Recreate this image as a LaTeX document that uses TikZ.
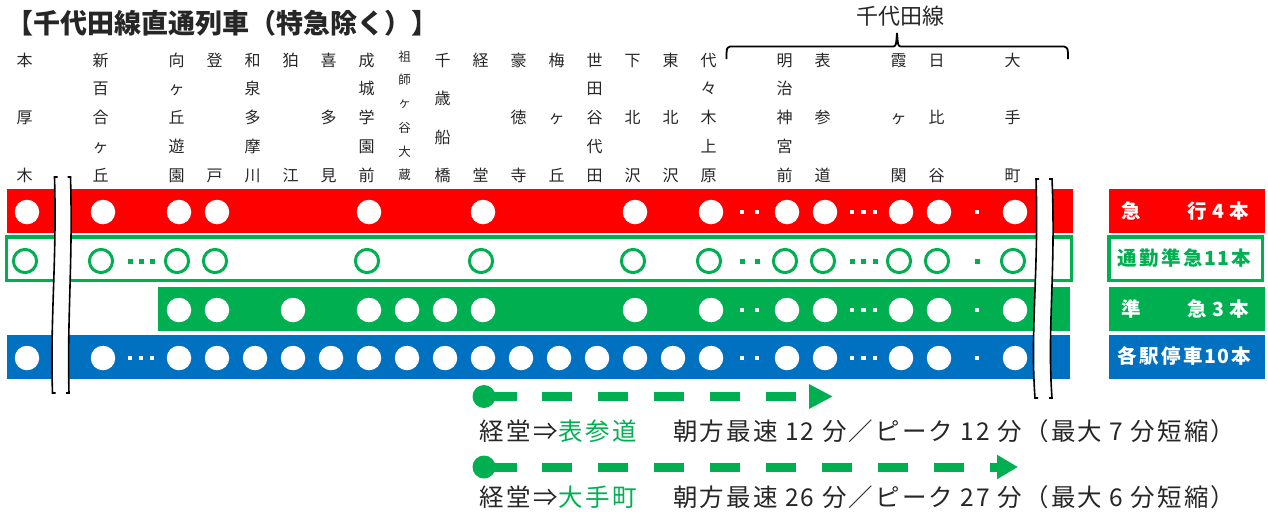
\documentclass[tikz,border=0pt]{standalone}
\usepackage{fontspec}
\setmainfont{Noto Sans CJK JP}
\usetikzlibrary{arrows.meta}
\definecolor{kred}{HTML}{FF0000}
\definecolor{kgreen}{HTML}{00B050}
\definecolor{kblue}{HTML}{0070C0}
\definecolor{ink}{HTML}{262626}
\newcommand\fs[1]{\fontsize{#1}{#1}\selectfont}
\newcommand\lc[2]{\makebox[#1pt]{#2}}
\tikzset{
 stl/.style={anchor=base, inner sep=0pt, font=\fs{16}, text=ink},
 stls/.style={anchor=base, inner sep=0pt, font=\fs{12.5}, text=ink},
 wdot/.style={circle, fill=white, minimum size=24.5pt, inner sep=0pt},
 odot/.style={circle, draw=kgreen, line width=3pt, fill=white, minimum size=23.2pt, inner sep=0pt},
 wsq/.style={rectangle, fill=white, minimum size=4.5pt, inner sep=0pt},
 gsq/.style={rectangle, fill=kgreen, minimum size=5pt, inner sep=0pt},
 legt/.style={anchor=base west, inner sep=0pt, font=\fs{19.5}\bfseries},
 btxt/.style={anchor=base west, inner sep=0pt, font=\fs{24.5}\addfontfeatures{LetterSpace=8.7}, text=ink},
 btxta/.style={anchor=base west, inner sep=0pt, font=\fs{24.5}\addfontfeatures{LetterSpace=11}, text=ink},
 brk/.style={line width=1.6pt, black},
 startdot/.style={circle, fill=kgreen, minimum size=23pt, inner sep=0pt},
 dasharrow/.style={kgreen, line width=9pt, dash pattern=on 30pt off 25.9pt},
}
\newcommand\stnT[4]{%
 \node[stl] (s#1a) at ({24.5+38*#1},66.1) {#2};
 \node[stl] (s#1c) at ({24.5+38*#1},123.1) {#3};
 \node[stl] (s#1e) at ({24.5+38*#1},181.1) {#4};}
\newcommand\stnF[6]{%
 \node[stl] (s#1a) at ({24.5+38*#1},66.1) {#2};
 \node[stl] (s#1b) at ({24.5+38*#1},94.6) {#3};
 \node[stl] (s#1c) at ({24.5+38*#1},123.1) {#4};
 \node[stl] (s#1d) at ({24.5+38*#1},152.1) {#5};
 \node[stl] (s#1e) at ({24.5+38*#1},181.1) {#6};}
\newcommand\stnW[3]{%
 \node[stl] (s#1a) at ({24.5+38*#1},66.1) {#2};
 \node[stl] (s#1e) at ({24.5+38*#1},181.1) {#3};}
\begin{document}
\begin{tikzpicture}[x=1pt,y=-1pt]
\useasboundingbox (0,0) rectangle (1268,515);
% title
\node[anchor=base west, inner sep=0pt, font=\fs{27}\bfseries, text=ink] (title) at (6.5,33.3) {【千代田線直通列車（特急除く）】};
\node[anchor=base, inner sep=0pt, font=\fs{22}, text=ink] (chiyoda) at (900,24.4) {千代田線};
\draw[line width=1.8pt] (726.5,59) .. controls (726.5,48) .. (730,46.5) -- (892,46.5)
  .. controls (896,46.5) .. (897,33) .. controls (898,46.5) .. (902,46.5) -- (1064,46.5)
  .. controls (1068,48) .. (1068,59);
% station names
\stnT{0}{本}{厚}{木}
\stnF{2}{新}{百}{合}{ヶ}{丘}
\stnF{4}{向}{ヶ}{丘}{遊}{園}
\stnW{5}{登}{戸}
\stnF{6}{和}{泉}{多}{摩}{川}
\stnW{7}{狛}{江}
\stnT{8}{喜}{多}{見}
\stnF{9}{成}{城}{学}{園}{前}
\foreach \ch/\yy [count=\i] in {祖/61.75,師/84.75,ヶ/107.75,谷/132.75,大/156.75,蔵/179.75}
  \node[stls] (s10-\i) at (404.5,\yy) {\ch};
\foreach \ch/\yy [count=\i] in {千/66.1,歳/104.1,船/143.1,橋/181.1}
  \node[stl] (s11-\i) at (442.5,\yy) {\ch};
\stnW{12}{経}{堂}
\stnT{13}{豪}{徳}{寺}
\stnT{14}{梅}{ヶ}{丘}
\stnF{15}{世}{田}{谷}{代}{田}
\stnT{16}{下}{北}{沢}
\stnT{17}{東}{北}{沢}
\stnF{18}{代}{々}{木}{上}{原}
\stnF{20}{明}{治}{神}{宮}{前}
\stnT{21}{表}{参}{道}
\stnT{23}{霞}{ヶ}{関}
\stnT{24}{日}{比}{谷}
\stnT{26}{大}{手}{町}
% bars
\fill[kred] (7,189) rectangle (1072.5,232.7);
\draw[kgreen, line width=3.5pt] (6.5,237) rectangle (1071.3,280.7);
\fill[kgreen] (158,286.7) rectangle (1070,330.7);
\fill[kblue] (7,335) rectangle (1070,379);
% stops
\foreach \k in {0,2,4,5,9,12,16,18,20,21,23,24,26}
  \node[wdot] (a\k) at ({27+38*\k},212) {};
\foreach \k in {0,2,4,5,9,12,16,18,20,21,23,24,26}
  \node[odot] (b\k) at ({25+38*\k},261) {};
\foreach \k in {4,5,7,9,10,11,12,16,18,20,21,23,24,26}
  \node[wdot] (c\k) at ({27+38*\k},310) {};
\foreach \k in {0,2,4,5,...,18,20,21,23,24,26}
  \node[wdot] (d\k) at ({27+38*\k},358) {};
% dots
\foreach \x [count=\i] in {742,757,852,863.5,875,977} {
  \node[wsq] (aq\i) at (\x,212) {};
  \node[gsq] (bq\i) at (\x,261) {};
  \node[wsq] (cq\i) at (\x,310) {};
  \node[wsq] (dq\i) at (\x,358) {};
}
\foreach \x [count=\i] in {130,141,152} {
  \node[gsq] (bp\i) at (\x,261) {};
  \node[wsq] (dp\i) at (\x,358) {};
}
% break marks
\fill[white] (54.5,177) .. controls (57,260) and (50,320) .. (52.5,393) -- (69,393) .. controls (67,320) and (73,260) .. (70.5,177) -- cycle;
\draw[brk] (57.5,177) -- (54.5,177) .. controls (57,260) and (50,320) .. (52.5,393) -- (55.5,393);
\draw[brk] (67.5,177) -- (70.5,177) .. controls (73,260) and (67,320) .. (69,393) -- (66,393);
\fill[white] (1036,179) .. controls (1039,270) and (1030,330) .. (1035,398) -- (1052,398) .. controls (1047,330) and (1056,270) .. (1052,179) -- cycle;
\draw[brk] (1039,179) -- (1036,179) .. controls (1039,270) and (1030,330) .. (1035,398) -- (1038,398);
\draw[brk] (1049,179) -- (1052,179) .. controls (1056,270) and (1047,330) .. (1052,398) -- (1049,398);
% legend
\fill[kred] (1109,189) rectangle (1265,232.7);
\draw[kgreen, line width=3.5pt] (1108.8,237) rectangle (1262.3,280.7);
\fill[kgreen] (1109,286.7) rectangle (1265,330.7);
\fill[kblue] (1109,335) rectangle (1265,379);
\node[legt, text=white] (l1) at (1120,218.9) {\lc{22}{急}\hspace{44pt}\lc{22}{行}\lc{20}{4}\lc{22}{本}};
\node[legt, text=kgreen] (l2) at (1116,265.1) {\lc{22}{通}\lc{22}{勤}\lc{22}{準}\lc{22}{急}\lc{13}{1}\lc{13}{1}\lc{22}{本}};
\node[legt, text=white] (l3) at (1120,316) {\lc{22}{準}\hspace{44pt}\lc{22}{急}\lc{20}{3}\lc{22}{本}};
\node[legt, text=white] (l4) at (1116,363.4) {\lc{22}{各}\lc{22}{駅}\lc{22}{停}\lc{22}{車}\lc{13}{1}\lc{13}{0}\lc{22}{本}};
% arrows
\node[startdot] (s1) at (484,396.5) {};
\coordinate (e1) at (833,396.5);
\draw[dasharrow, -{Triangle[length=24pt,width=23pt]}] ([xshift=2.5pt]s1.center) -- (e1);
\node[startdot] (s2) at (484,467) {};
\coordinate (e2) at (1018,467);
\draw[dasharrow, -{Triangle[length=21pt,width=23pt]}] ([xshift=2.5pt]s2.center) -- (e2);
% texts
\node[btxta] (t1a) at (479,440) {経堂⇒\textcolor{kgreen}{表参道}};
\node[btxt] (t1b) at (673,440) {朝方最速 12 分／ピーク 12 分（最大 7 分短縮）};
\node[btxta] (t2a) at (479,506) {経堂⇒\textcolor{kgreen}{大手町}};
\node[btxt] (t2b) at (673,506) {朝方最速 26 分／ピーク 27 分（最大 6 分短縮）};
\end{tikzpicture}
\end{document}
